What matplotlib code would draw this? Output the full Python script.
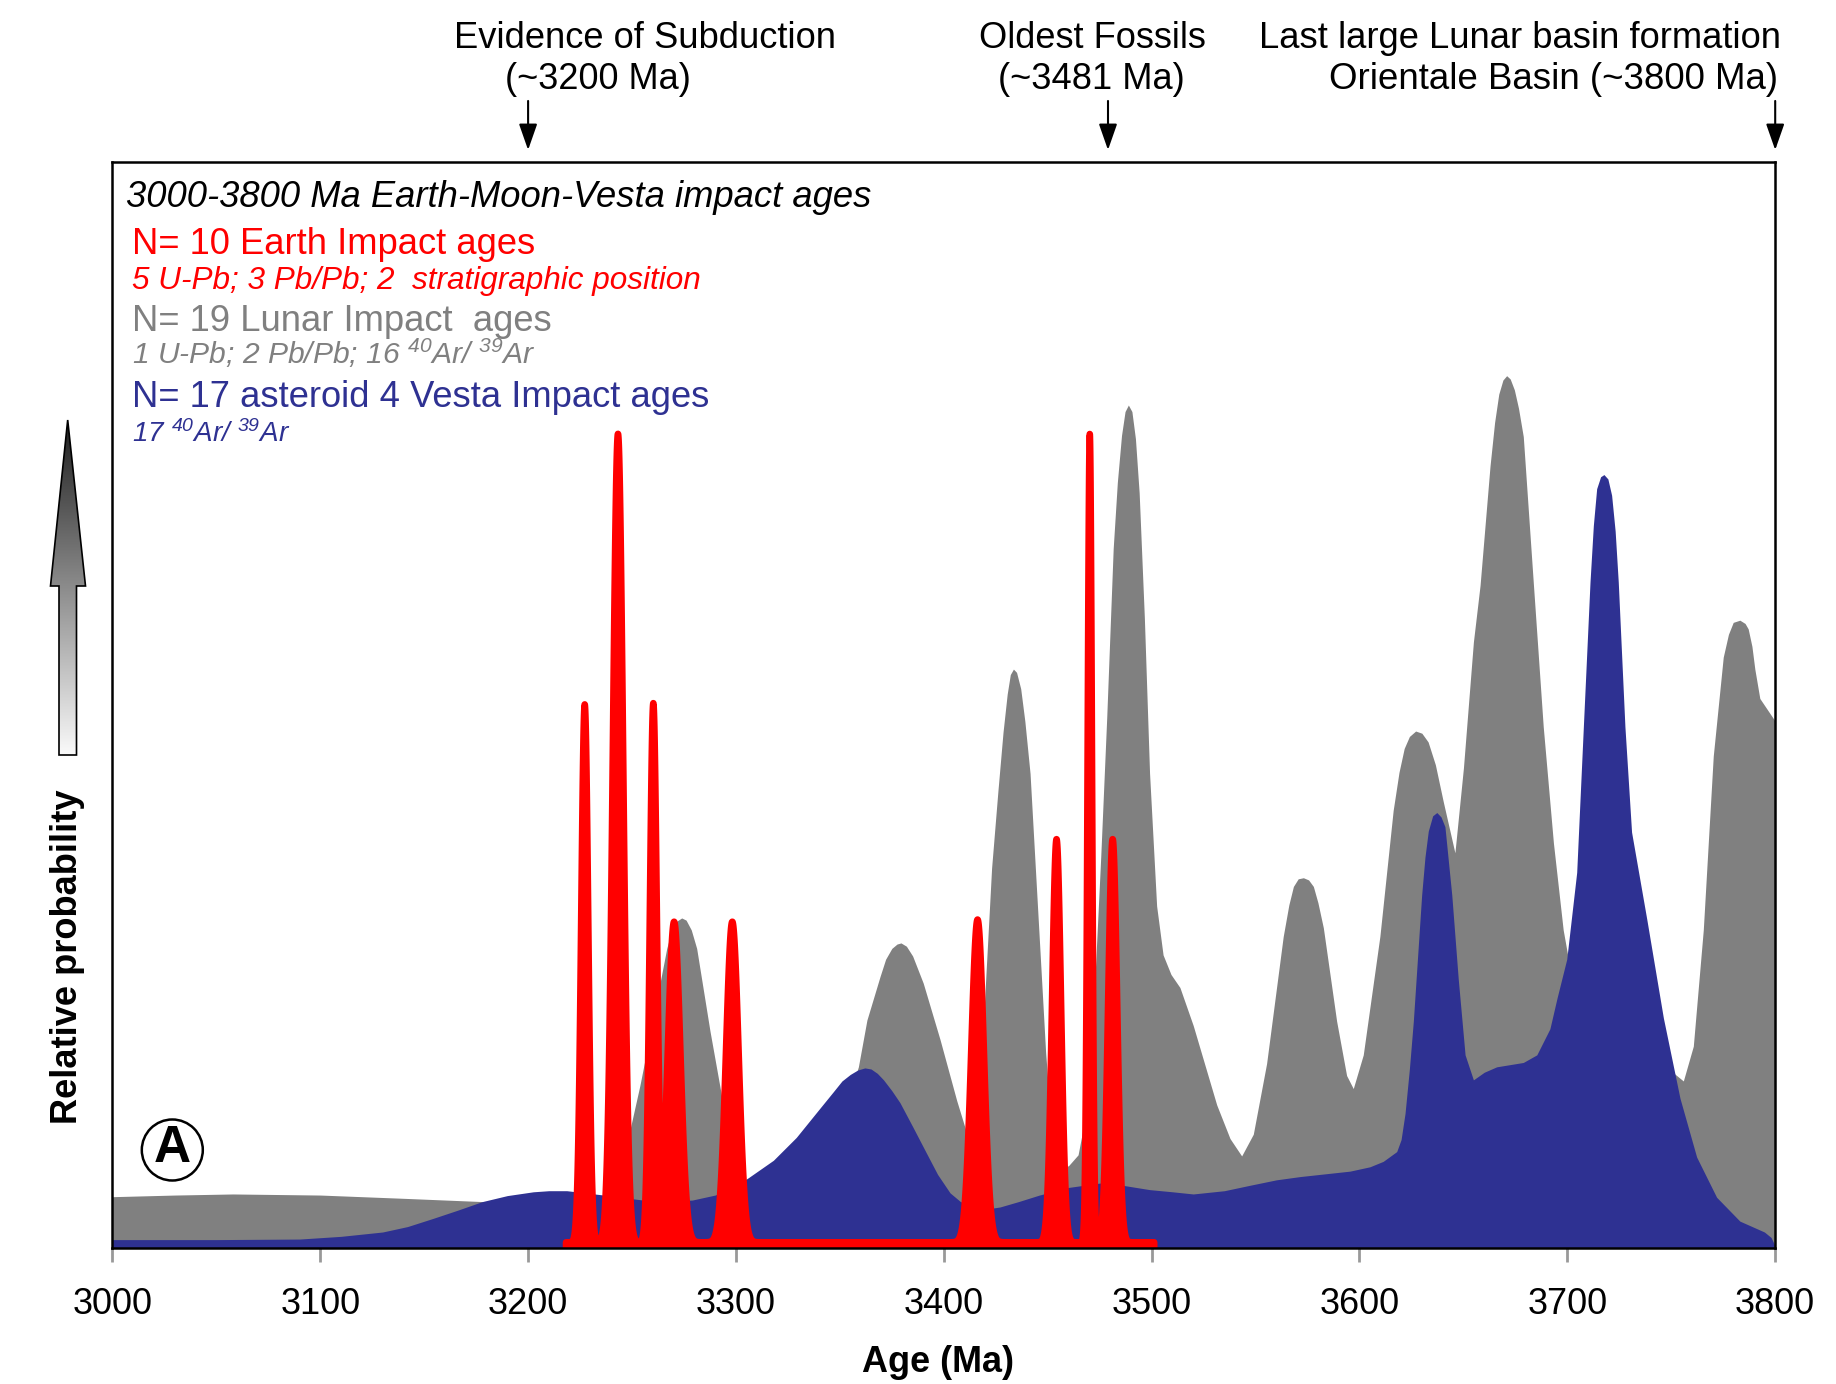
import numpy as np
import matplotlib
matplotlib.use('Agg')
import matplotlib.pyplot as plt
from matplotlib.patches import Polygon, Ellipse
from matplotlib.colors import LinearSegmentedColormap

plt.rcParams['font.family'] = ['Liberation Sans', 'DejaVu Sans']
plt.rcParams['mathtext.fontset'] = 'custom'
plt.rcParams['mathtext.rm'] = 'Liberation Sans:italic'
plt.rcParams['mathtext.it'] = 'Liberation Sans:italic'
plt.rcParams['mathtext.bf'] = 'Liberation Sans:bold'

# ---------------- data ----------------
# Lunar impact ages, relative probability curve (traced)
lunar_age = [3000, 3030, 3058, 3100, 3140, 3178, 3210, 3240, 3246, 3249, 3253.8, 3260,
             3266.7, 3269, 3271.5, 3273.9, 3276, 3278.5, 3281.1, 3287.5, 3293.1, 3298, 3303, 3310,
             3330, 3345, 3353, 3358.9, 3363, 3369.3, 3372, 3375, 3377.5, 3379.4, 3382, 3385,
             3390.1, 3398.2, 3406.2, 3411, 3414.5, 3418, 3423, 3426, 3428.5, 3430.5, 3432,
             3433.5, 3435, 3437, 3439, 3441.5, 3446, 3449, 3452, 3456, 3460, 3464.6, 3468,
             3472, 3475.5, 3478.4, 3481.5, 3483.5, 3485.5, 3487.2, 3488.8, 3490.5, 3492.2,
             3494, 3496.5, 3499, 3502.4, 3505.5, 3509.3, 3513.6, 3520,
             3531.3, 3537.7, 3543.3, 3548.9, 3555.3, 3563.3, 3566, 3568.2, 3570.5, 3573,
             3575.5, 3577.8, 3580, 3582.6, 3589, 3593.8, 3597, 3601.8, 3609.8, 3616.2, 3619,
             3621.5, 3624, 3627, 3630, 3633, 3636.5, 3640.3, 3645.9, 3650, 3654.8, 3658,
             3662.8, 3665, 3667, 3669, 3670.8, 3672.5, 3674.5, 3676.5, 3678.8,
             3683.6, 3688.4, 3693.3, 3698, 3702, 3710, 3725, 3740, 3749.4, 3755.8, 3760.6,
             3765.4, 3770.2, 3775, 3777.5, 3779.8, 3783, 3785.5, 3787, 3788.8, 3790.2,
             3792.6, 3800]
lunar_prob = [4.75, 4.9, 5.0, 4.9, 4.6, 4.3, 4.2, 4.3, 6.0, 10.9, 15.0, 21.0,
              27.6, 29.2, 30.1, 30.4, 30.2, 29.3, 27.6, 20.0, 14.0, 9.5, 6.0, 4.8,
              5.5, 9.0, 13.0, 16.7, 21.0, 25.0, 26.6, 27.6, 28.0, 28.1, 27.8, 26.9,
              24.4, 19.2, 13.6, 10.6, 9.8, 17.0, 35.0, 42.0, 47.5, 51.0, 52.8,
              53.3, 53.0, 51.5, 48.5, 43.7, 28.3, 18.0, 10.5, 7.3, 7.6, 8.6, 12.0,
              22.0, 36.0, 48.9, 64.4, 70.5, 74.8, 77.0, 77.6, 77.0, 74.5,
              69.5, 58.0, 43.7, 31.5, 27.0, 25.2, 24.0, 20.5,
              13.2, 10.1, 8.5, 10.5, 17.0, 28.7, 31.6, 33.3, 34.0, 34.1,
              33.9, 33.3, 31.8, 29.5, 20.9, 15.9, 14.7, 17.8, 28.7, 40.3, 43.8,
              46.0, 47.1, 47.6, 47.4, 46.6, 44.5, 41.1, 36.4, 44.2, 55.8, 61.0,
              72.0, 76.0, 78.6, 79.9, 80.3, 80.0, 79.0, 77.3, 74.7,
              61.3, 48.0, 37.3, 29.3, 25.0, 21.0, 18.0, 17.0, 16.4, 15.4, 18.6,
              29.3, 45.3, 54.4, 56.5, 57.6, 57.8, 57.5, 57.0, 55.4, 53.3,
              50.6, 48.5]

# Vesta impact ages, relative probability curve (traced)
vesta_age = [3000, 3050, 3090, 3110, 3130, 3142, 3154.4, 3166, 3178, 3190, 3202.5, 3210,
             3218.6, 3236.4, 3254.8, 3270, 3279, 3290, 3298, 3306, 3318, 3329, 3340,
             3346.8, 3351, 3355, 3358.5, 3362, 3365, 3368, 3371, 3375, 3378.9, 3385,
             3391.8, 3397, 3403, 3408, 3414, 3420, 3427, 3436, 3446, 3460, 3475, 3486,
             3499, 3510, 3520, 3535, 3547.3, 3560, 3571.4, 3595.4, 3605, 3611.4, 3617.9,
             3620, 3621.9, 3624, 3625.9, 3629.9, 3631.5, 3633.1, 3635.2, 3637.2, 3639.2,
             3641.1, 3644.4, 3647.5, 3650.8, 3654.8, 3660, 3666, 3678.8, 3685.3, 3691.6,
             3695, 3699.7, 3704.5, 3707.7, 3710.9, 3712.5, 3714.1, 3716, 3717.6, 3719.5,
             3721.3, 3723, 3724.5, 3727.7, 3730.9, 3738.2, 3746.2, 3754.2, 3762.2, 3771.8,
             3783, 3794.8, 3798, 3800]
vesta_prob = [0.8, 0.8, 0.85, 1.1, 1.5, 2.0, 2.76, 3.5, 4.3, 4.85, 5.2, 5.3,
              5.3, 4.9, 4.45, 4.35, 4.44, 4.9, 5.5, 6.5, 8.1, 10.2, 12.8,
              14.4, 15.4, 16.0, 16.4, 16.6, 16.5, 16.1, 15.5, 14.5, 13.4, 11.2,
              8.7, 6.8, 5.1, 4.3, 3.8, 3.6, 3.8, 4.3, 4.9, 5.6, 6.0, 5.8,
              5.4, 5.2, 5.0, 5.3, 5.8, 6.3, 6.6, 7.1, 7.5, 8.0, 8.9,
              10.0, 12.4, 16.5, 20.9, 32.5, 36.0, 38.4, 39.8, 40.1, 39.7,
              38.8, 32.5, 24.8, 17.8, 15.5, 16.2, 16.7, 17.1, 17.8, 20.2,
              23.0, 26.6, 34.6, 48.0, 61.3, 66.5, 69.9, 71.0, 71.2, 70.8,
              69.3, 66.0, 61.3, 48.0, 38.3, 30.3, 21.2, 13.8, 8.4, 4.7,
              2.5, 1.5, 1.0, 0.2]

# Earth impact ages (Ma), 1-sigma widths (Ma) and peak heights
earth_age = [3227, 3243, 3243, 3260, 3270, 3298, 3416, 3454, 3470, 3481]
earth_sigma = [1.7, 2.5, 2.5, 1.7, 3.0, 3.0, 3.0, 2.15, 1.06, 2.15]
earth_height = [49.5, 37.2, 37.2, 49.5, 29.5, 29.5, 29.7, 37.1, 74.4, 37.1]
earth_span = [3218, 3501]
earth_base = 0.6

xtick_values = [3000, 3100, 3200, 3300, 3400, 3500, 3600, 3700, 3800]

event_line1 = ["Evidence of Subduction", "Oldest Fossils", "Last large Lunar basin formation"]
event_line2 = ["(~3200 Ma)", "(~3481 Ma)", "Orientale Basin (~3800 Ma)"]
event_age = [3200, 3479, 3800]

legend_lines = [
    ("3000-3800 Ma Earth-Moon-Vesta impact ages", 'black', 'italic'),
    ("N= 10 Earth Impact ages", '#FF0000', 'normal'),
    ("5 U-Pb; 3 Pb/Pb; 2  stratigraphic position", '#FF0000', 'italic'),
    ("N= 19 Lunar Impact  ages", '#808080', 'normal'),
    (r"1 U-Pb; 2 Pb/Pb; 16 $^{40}$Ar/ $^{39}$Ar", '#808080', 'italic'),
    ("N= 17 asteroid 4 Vesta Impact ages", '#2E3192', 'normal'),
    (r"17 $^{40}$Ar/ $^{39}$Ar", '#2E3192', 'italic'),
]

# ---------------- layout ----------------
GRAY, BLUE, RED = '#808080', '#2E3192', '#FF0000'
W, H = 1836, 1384
fig = plt.figure(figsize=(W / 100, H / 100), dpi=100)
fig.patch.set_facecolor('white')
L, R, T, B = 112.4, 1775.2, 161.6, 1248.3
ax = fig.add_axes([L / W, 1 - B / H, (R - L) / W, (B - T) / H])
ax.set_xlim(3000, 3800)
ax.set_ylim(0, 100)

ax.fill_between(lunar_age, 0, lunar_prob, color=GRAY, lw=0, zorder=1)
ax.fill_between(vesta_age, 0, vesta_prob, color=BLUE, lw=0, zorder=2)

xe = np.linspace(earth_span[0], earth_span[1], 5000)
ye = np.full_like(xe, earth_base)
for a, s, h in zip(earth_age, earth_sigma, earth_height):
    ye = ye + h * np.exp(-0.5 * ((xe - a) / s) ** 2)
ax.fill_between(xe, 0, ye, facecolor=RED, edgecolor=RED, lw=4.7,
                joinstyle='round', capstyle='round', zorder=3)

for sp in ax.spines.values():
    sp.set_linewidth(1.8)
    sp.set_color('black')
    sp.set_zorder(5)
ax.set_yticks([])
ax.set_xticks(xtick_values)
ax.set_xticklabels([str(v) for v in xtick_values])
ax.tick_params(axis='x', direction='out', length=10, width=2, color='#999999',
               pad=18, labelsize=26)

# arrows for events
for age in event_age:
    ax.annotate('', xy=(age, 1.0107), xycoords=('data', 'axes fraction'),
                xytext=(age, 1.0558), textcoords=('data', 'axes fraction'),
                arrowprops=dict(arrowstyle='-|>,head_length=0.8,head_width=0.28',
                                mutation_scale=20, color='black', lw=1.5,
                                shrinkA=0, shrinkB=0),
                annotation_clip=False)

# overlay in pixel coordinates (top-down)
ov = fig.add_axes([0, 0, 1, 1], zorder=10)
ov.set_xlim(0, W)
ov.set_ylim(H, 0)
ov.axis('off')

fits = []
t = ov.text(645.2, 48, event_line1[0], ha='center', va='baseline', fontsize=26); fits.append((t, 382))
t = ov.text(597.8, 89, event_line2[0], ha='center', va='baseline', fontsize=26); fits.append((t, 186))
t = ov.text(1092.5, 48, event_line1[1], ha='center', va='baseline', fontsize=26); fits.append((t, 227))
t = ov.text(1091.4, 89, event_line2[1], ha='center', va='baseline', fontsize=26); fits.append((t, 187))
t = ov.text(1781, 48, event_line1[2], ha='right', va='baseline', fontsize=26); fits.append((t, 522))
t = ov.text(1777.6, 89, event_line2[2], ha='right', va='baseline', fontsize=26); fits.append((t, 448))

leg_x = [125.5, 131.6, 131.6, 131.6, 131.6, 131.6, 131.6]
leg_base = [206.7, 254, 289.3, 330.7, 364, 406.7, 441.7]
leg_w = [746, 403, 567, 419, 403, 577, 158]
leg_fs = [26, 26, 20, 26, 20, 26, 20]
for (txt, col, sty), x0, yb, w, fs in zip(legend_lines, leg_x, leg_base, leg_w, leg_fs):
    t = ov.text(x0, yb, txt, ha='left', va='baseline', color=col, style=sty, fontsize=fs)
    fits.append((t, w))

t = ov.text(938, 1372, 'Age (Ma)', ha='center', va='baseline', fontweight='bold', fontsize=26)
fits.append((t, 152))
ylab = ov.text(68, 957, 'Relative probability', ha='center', va='center', rotation=90,
               fontweight='bold', fontsize=26)

# gradient arrow
verts = [(67.7, 420), (85.5, 586), (76.5, 586), (76.5, 755), (59, 755), (59, 586), (50.5, 586)]
poly = Polygon(verts, closed=True, facecolor='none', edgecolor='black', lw=1.2, zorder=3)
ov.add_patch(poly)
cmap = LinearSegmentedColormap.from_list('g', ['#fafafa', '#1e1e1e'])
grad = np.linspace(0, 1, 256).reshape(-1, 1)
im = ov.imshow(grad, extent=(50, 86, 755, 420), origin='lower', cmap=cmap,
               aspect='auto', zorder=2, interpolation='bilinear')
im.set_clip_path(poly)
ov.set_xlim(0, W)
ov.set_ylim(H, 0)

# panel label
ov.add_patch(Ellipse((172.3, 1150), 61, 61, fill=False, lw=1.8, ec='black'))
ov.text(172.3, 1149, 'A', ha='center', va='center', fontweight='bold', fontsize=37)

fig.canvas.draw()
r = fig.canvas.get_renderer()
for t, target in fits:
    bb = t.get_window_extent(r)
    t.set_fontsize(t.get_fontsize() * target / bb.width)
bb = ylab.get_window_extent(r)
ylab.set_fontsize(ylab.get_fontsize() * 334 / bb.height)

fig.savefig('out.png', dpi=100, facecolor='white')
